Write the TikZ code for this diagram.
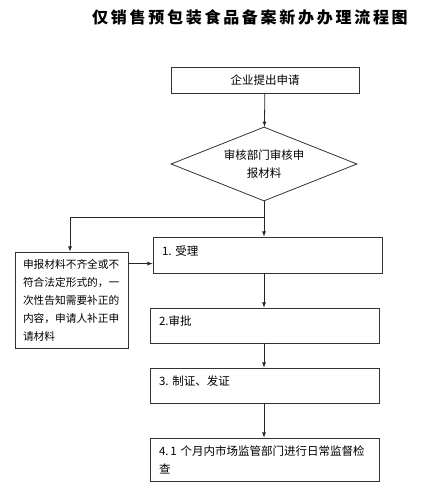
\documentclass[tikz,border=0pt]{standalone}
\usepackage{fontspec}
\setmainfont{Noto Sans CJK SC}
\usetikzlibrary{shapes.geometric}

\tikzset{
    box/.style={draw=black!80, line width=0.8pt, rectangle, inner xsep=9pt, inner ysep=0pt, align=left, font=\fontsize{11.5}{18}\selectfont},
    onebox/.style={box, text width=211pt, text depth=9pt},
    choice/.style={draw=black!80, line width=0.8pt, diamond, aspect=2.5, inner sep=0pt, minimum width=186pt, minimum height=74pt, align=center, font=\fontsize{11.5}{18}\selectfont},
    flow/.style={->, >=latex, line width=0.8pt, black!85}
}

\begin{document}
\begin{tikzpicture}[x=1pt, y=-1pt]
    \useasboundingbox (0,0) rectangle (423,494);
    \node[font=\fontsize{16}{18}\selectfont\bfseries\addfontfeature{LetterSpace=17}] (title) at (250,17){仅销售预包装食品备案新办办理流程图};
    \node[box, minimum width=188pt, minimum height=26pt, align=center] (start) at (265,80){企业提出申请};
    \node[choice] (audit) at (264,164){审核部门审核申\\报材料};
    \node[onebox, minimum height=36pt] (accept) at (267.5,255){1.\ 受理};
    \node[onebox, minimum height=35pt] (approve) at (264.5,325.5){2.审批};
    \node[onebox, minimum height=35pt] (issue) at (264.5,385.5){3.\ 制证、发证};
    \node[box, text width=211pt, minimum height=43pt] (inspect) at (264.5,459.5){4.\,1 个月内市场监管部门进行日常监督检\\查};
    \node[box, inner xsep=8pt, text width=97pt, minimum height=96pt, font=\fontsize{10.7}{18}\selectfont] (fix) at (71.5,300){申报材料不齐全或不\\符合法定形式的，一\\次性告知需要补正的\\内容，申请人补正申\\请材料};
    \coordinate (split) at (264,217);
    \coordinate (fork) at (70,217);
    \coordinate (fixout) at ([yshift=-12pt]fix.north east);

    \draw[flow](start)--(audit);
    \draw[flow](audit.south)--(audit.south |- accept.north);
    \draw[line width=0.8pt, black!85](split)--(fork);
    \draw[flow](fork)--(fork |- fix.north);
    \draw[flow](fixout)--(fixout -| accept.west);
    \draw[flow](split |- accept.south)--(split |- approve.north);
    \draw[flow](split |- approve.south)--(split |- issue.north);
    \draw[flow](split |- issue.south)--(split |- inspect.north);
\end{tikzpicture}
\end{document}
